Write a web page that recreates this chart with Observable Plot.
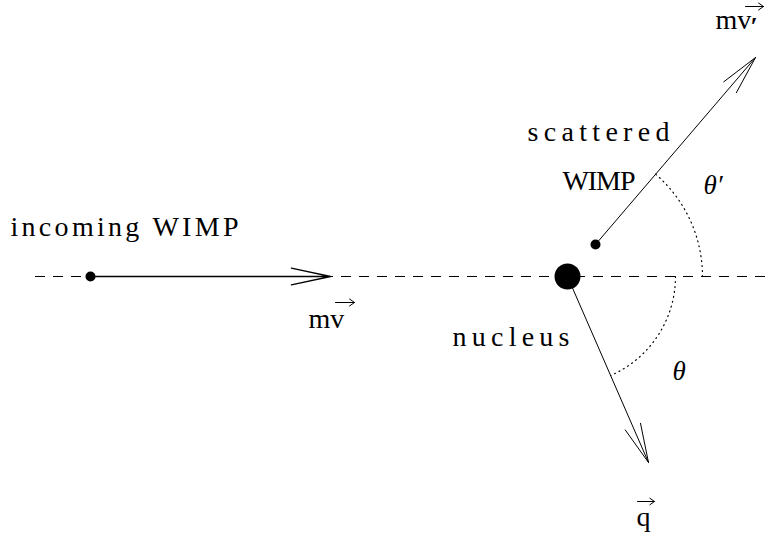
<!DOCTYPE html>
<html><head><meta charset="utf-8">
<script src="https://cdn.jsdelivr.net/npm/d3@7"></script>
<script src="https://cdn.jsdelivr.net/npm/@observablehq/plot@0.6"></script>
<style>body{margin:0;background:#fff}</style>
</head><body><div id="chart"></div>
<script>
// Diagram geometry (pixel-like coordinates, y downward)
const beamAxis = [{x1: 35, x2: 768, y: 276}];
const particles = [
  {name: "incoming WIMP", x: 90, y: 276, r: 5},
  {name: "nucleus", x: 567, y: 276, r: 13},
  {name: "scattered WIMP", x: 595, y: 244, r: 5}
];
const vectors = [
  {name: "mv", x1: 90, y1: 276, x2: 330, y2: 276, w: 1.3},
  {name: "mv'", x1: 595, y1: 244, x2: 755, y2: 57, w: 1},
  {name: "q", x1: 567, y1: 276, x2: 648, y2: 462, w: 1}
];
const angleArcs = [
  {name: "θ'", r: 135, vector: "mv'"},
  {name: "θ", r: 108, vector: "q"}
];
// label text with its left and right extent and baseline
const spacedLabels = [
  {text: "incoming WIMP", x0: 10, x1: 238, y: 235},
  {text: "scattered", x0: 527, x1: 669, y: 140},
  {text: "WIMP", x0: 562, x1: 635, y: 189},
  {text: "nucleus", x0: 452, x1: 569, y: 345}
];
const vectorLabels = [
  {text: "mv", x: 308, y: 327},
  {text: "mv", x: 715, y: 28},
  {text: "q", x: 636, y: 525}
];
const vectorOverArrows = [
  {x1: 335, x2: 354, y: 302},
  {x1: 745, x2: 763, y: 6},
  {x1: 637, x2: 654, y: 501}
];
const primes = [{text: "′", x: 750, y: 34}];
const angleLabels = [
  {text: "θ′", x: 703, y: 193},
  {text: "θ", x: 672, y: 379}
];

// derived: arc points centred on the nucleus
const nucleus = particles.find(d => d.name === "nucleus");
const arcPoints = [];
for (const arc of angleArcs) {
  const v = vectors.find(d => d.name === arc.vector);
  const ang = Math.atan2(-(v.y2 - v.y1), v.x2 - v.x1);
  const n = 80;
  for (let i = 0; i <= n; i++) {
    const a = ang * i / n;
    arcPoints.push({arc: arc.name, x: nucleus.x + arc.r * Math.cos(a), y: nucleus.y - arc.r * Math.sin(a)});
  }
}

const font = "Liberation Serif";
const wing = 40;
const chart = Plot.plot({
  width: 768, height: 537, margin: 0,
  x: {domain: [0, 768], axis: null},
  y: {domain: [537, 0], axis: null},
  r: {type: "identity"},
  style: {background: "white"},
  marks: [
    Plot.ruleY(beamAxis, {y: "y", x1: "x1", x2: "x2", stroke: "black", strokeWidth: 1, strokeDasharray: "10,8"}),
    Plot.line(arcPoints, {x: "x", y: "y", z: "arc", stroke: "black", strokeWidth: 1.2, strokeDasharray: "1,4", curve: "linear"}),
    ...vectors.map(v => Plot.arrow([v], {x1: "x1", y1: "y1", x2: "x2", y2: "y2", stroke: "black",
      strokeWidth: v.w, headLength: wing * 1.5 / v.w, headAngle: 24})),
    Plot.dot(particles, {x: "x", y: "y", r: "r", fill: "black", stroke: "none"}),
    Plot.text(spacedLabels, {x: "x0", y: "y", text: "text", textAnchor: "start", lineAnchor: "bottom", fontFamily: font, fontSize: 28, fill: "black"}),
    Plot.text(vectorLabels, {x: "x", y: "y", text: "text", textAnchor: "start", lineAnchor: "bottom", fontFamily: font, fontSize: 28, fill: "black"}),
    Plot.arrow(vectorOverArrows, {x1: "x1", x2: "x2", y1: "y", y2: "y", stroke: "black", strokeWidth: 1, headLength: 9, headAngle: 70}),
    Plot.text(primes, {x: "x", y: "y", text: "text", textAnchor: "start", lineAnchor: "bottom", fontFamily: font, fontSize: 26, fontWeight: "bold", fill: "black"}),
    Plot.text(angleLabels, {x: "x", y: "y", text: "text", textAnchor: "start", lineAnchor: "bottom", fontFamily: font, fontStyle: "italic", fontSize: 27, fill: "black"})
  ]
});
// stretch the spaced labels to their extent
d3.select(chart).selectAll("text").each(function () {
  const L = spacedLabels.find(l => l.text === this.textContent);
  if (L) d3.select(this).attr("textLength", L.x1 - L.x0).attr("lengthAdjust", "spacing");
});
document.getElementById("chart").append(chart);
</script>
</body></html>
